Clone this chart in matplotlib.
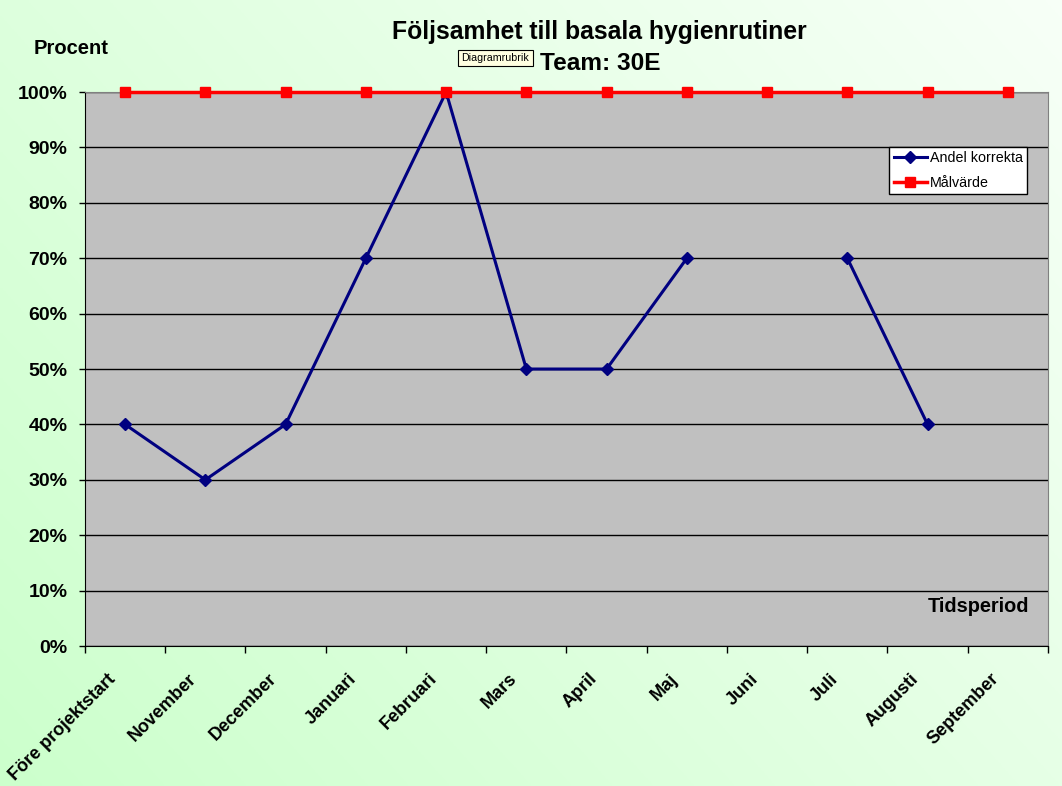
import numpy as np
import matplotlib
matplotlib.use("Agg")
import matplotlib.pyplot as plt
from matplotlib.ticker import FixedLocator, NullFormatter, PercentFormatter

plt.rcParams['font.family'] = ['Liberation Sans', 'DejaVu Sans']

# categories and values (percent), None = no measurement
categories = ['Före projektstart', 'November', 'December', 'Januari', 'Februari', 'Mars',
              'April', 'Maj', 'Juni', 'Juli', 'Augusti', 'September']
andel_korrekta = [40, 30, 40, 70, 100, 50, 50, 70, None, 70, 40, None]
malvarde = [100] * 12

title_main = 'Följsamhet till basala hygienrutiner'
title_sub = 'Team: 30E'

fig = plt.figure(figsize=(10.62, 7.86), dpi=100)

# green gradient background (lower left green -> upper right almost white)
bg = fig.add_axes([0, 0, 1, 1], zorder=-10)
gx, gy = np.meshgrid(np.linspace(0, 1, 300), np.linspace(0, 1, 300))
t = np.clip((gx * 0.6 + (1 - gy) * 0.4), 0, 1)
c0 = np.array([0.80, 1.0, 0.80])
c1 = np.array([0.97, 1.0, 0.97])
img = c0[None, None, :] * (1 - t[..., None]) + c1[None, None, :] * t[..., None]
bg.imshow(img, extent=[0, 1, 0, 1], aspect='auto', origin='upper')
bg.axis('off')

ax = fig.add_axes([0.0800, 0.1781, 0.9068, 0.7048])
ax.set_facecolor('#c0c0c0')

x = np.arange(len(categories))
y1 = np.array([np.nan if v is None else v for v in andel_korrekta], dtype=float)
ax.plot(x, y1, color='#000080', lw=2.2, marker='D', ms=6, label='Andel korrekta', zorder=3)
ax.plot(x, malvarde, color='#ff0000', lw=2.5, marker='s', ms=7, label='Målvärde',
        zorder=4, clip_on=False)

ax.set_xlim(-0.5, len(categories) - 0.5)
ax.set_ylim(0, 100)
ax.set_yticks(np.arange(0, 101, 10))
ax.yaxis.set_major_formatter(PercentFormatter(decimals=0))
ax.grid(axis='y', color='black', lw=1)
ax.set_axisbelow(True)

# ticks between categories, labels at category centers
ax.xaxis.set_major_locator(FixedLocator(np.arange(-0.5, len(categories), 1)))
ax.xaxis.set_major_formatter(NullFormatter())
ax.tick_params(axis='x', which='major', length=5, width=1, direction='out')
ax.tick_params(axis='y', length=4, width=1, labelsize=14, pad=8.5)
for lab in ax.get_yticklabels():
    lab.set_fontweight('bold')

for i, name in enumerate(categories):
    ax.text(i - 0.22, -4.4, name, rotation=45, ha='right', va='top',
            rotation_mode='anchor', fontsize=13, fontweight='bold',
            transform=ax.transData)

for side in ['top', 'right']:
    ax.spines[side].set_color('#808080')
for side in ['left', 'bottom']:
    ax.spines[side].set_color('black')

leg = ax.legend(loc='upper right', bbox_to_anchor=(0.978, 0.9007), fontsize=10.3,
                frameon=True, fancybox=False, edgecolor='black', framealpha=1,
                handlelength=2.3, borderpad=0.3, labelspacing=0.75, handletextpad=0.2,
                borderaxespad=0)
leg.get_frame().set_linewidth(1)

ax.text(0.981, 0.072, 'Tidsperiod', transform=ax.transAxes, ha='right', va='center',
        fontsize=14.3, fontweight='bold')

fig.text(599 / 1062, 1 - 32 / 786, title_main, ha='center', va='center',
         fontsize=17.8, fontweight='bold')
fig.text(600 / 1062, 1 - 64 / 786, title_sub, ha='center', va='center',
         fontsize=17.6, fontweight='bold')
fig.text(495.5 / 1062, 1 - 58 / 786, 'Diagramrubrik', ha='center', va='center', fontsize=7.7,
         bbox=dict(boxstyle='square,pad=0.3', fc='#ffffe1', ec='black', lw=0.8))
fig.text(71.5 / 1062, 1 - 48 / 786, 'Procent', ha='center', va='center',
         fontsize=14.5, fontweight='bold')

fig.savefig('out.png', dpi=100)
